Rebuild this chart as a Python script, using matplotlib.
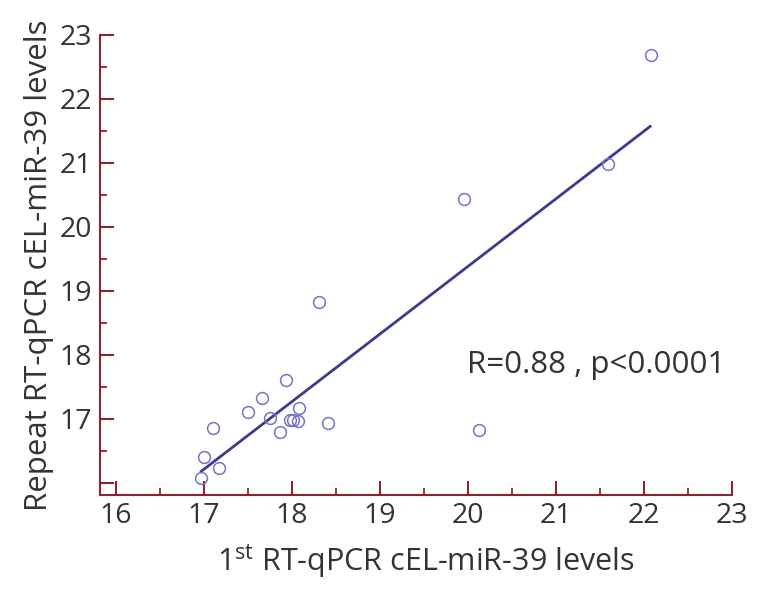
import numpy as np
import matplotlib.pyplot as plt
from matplotlib.ticker import MultipleLocator

plt.rcParams['font.family'] = ['Open Sans', 'DejaVu Sans']

# first run vs repeat run (Ct values)
first_run = [16.97, 17.00, 17.17, 17.10, 17.50, 17.66, 17.75, 17.87, 17.93, 17.98,
             18.01, 18.08, 18.07, 18.31, 18.41, 20.13, 19.95, 21.59, 22.08]
repeat_run = [16.07, 16.40, 16.23, 16.85, 17.10, 17.32, 17.01, 16.80, 17.60, 16.98,
              16.98, 17.17, 16.96, 18.83, 16.94, 16.83, 20.43, 20.98, 22.69]

# regression line as reported
fit_slope = 1.057
fit_intercept = 16.18 - 1.057 * 16.97
fit_range = [16.97, 22.07]

axis_col = '#8B2535'
text_col = '#333333'

fig = plt.figure(figsize=(7.59, 5.92), dpi=100)
ax = fig.add_axes([0.1318, 0.1639, 0.8326, 0.777])

xs = np.array(fit_range)
ax.plot(xs, fit_slope * xs + fit_intercept, color='#3B3B8F', lw=2, zorder=2)
ax.plot(first_run, repeat_run, 'o', mfc='none', mec='#7474C4', mew=1.1, ms=8.5, zorder=3)

ax.text(19.99, 17.84, 'R=0.88 , p<0.0001', fontsize=22.5, color=text_col, va='center', ha='left')

ax.set_xlim(15.82, 23)
ax.set_ylim(15.81, 23)
ax.xaxis.set_major_locator(MultipleLocator(1))
ax.xaxis.set_minor_locator(MultipleLocator(0.5))
ax.yaxis.set_major_locator(MultipleLocator(1))
ax.yaxis.set_minor_locator(MultipleLocator(0.5))
ax.set_yticks(range(16, 24))
ax.set_yticklabels([''] + [str(v) for v in range(17, 24)])

for side in ['top', 'right']:
    ax.spines[side].set_visible(False)
for side in ['left', 'bottom']:
    ax.spines[side].set_color(axis_col)
    ax.spines[side].set_linewidth(1.5)

ax.tick_params(which='major', direction='in', length=10, width=1.5, color=axis_col,
               labelsize=20.5, labelcolor=text_col)
ax.tick_params(which='minor', direction='in', length=5, width=1.3, color=axis_col)
ax.tick_params(axis='x', which='major', pad=5)
ax.tick_params(axis='y', which='major', pad=6)

ax.set_xlabel('1$^{\\mathregular{st}}$ RT-qPCR cEL-miR-39 levels', fontsize=22, color=text_col, labelpad=6)
ax.xaxis.set_label_coords(0.515, -0.105)
ax.set_ylabel('Repeat RT-qPCR cEL-miR-39 levels', fontsize=22.5, color=text_col, labelpad=4)

fig.savefig('out.png', dpi=100)
